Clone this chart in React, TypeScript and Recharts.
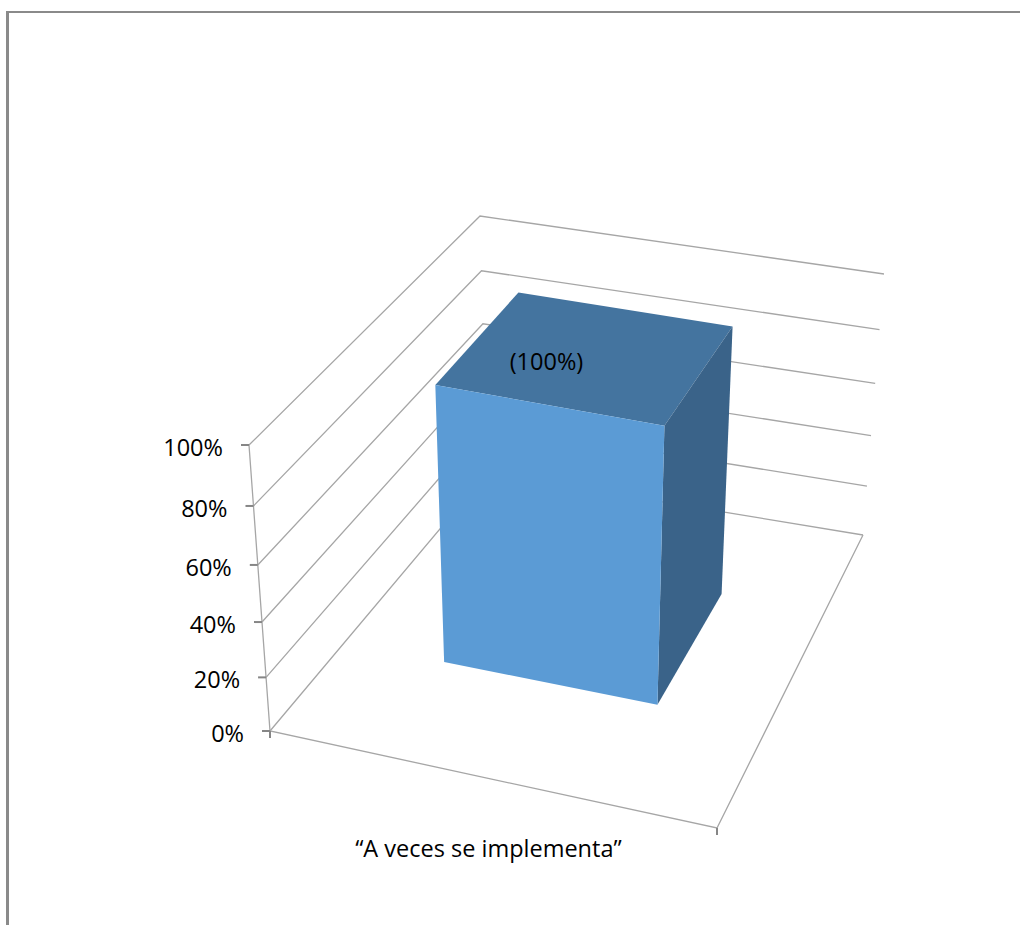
import { BarChart, Bar, XAxis, YAxis, CartesianGrid, LabelList } from "recharts";

const categories = ["“A veces se implementa”"];
const values = [100];
const barLabels = ["(100%)"];
const yTicks = [0, 20, 40, 60, 80, 100];

const data = categories.map((name, i) => ({ name, value: values[i], label: barLabels[i] }));

const WIDTH = 1020;
const HEIGHT = 925;
// flat plot rectangle recharts lays out, everything is then projected to the 3D box
const PLOT_LEFT = 100;
const PLOT_TOP = 100;
const PLOT_W = 820;
const PLOT_H = 725;

// box corners on screen: floor and top plane
const FLOOR = { a: [270, 731], b: [717, 828], c: [863, 535], d: [487, 473] };
const ROOF = { a: [249, 445], b: [729, 538], c: [884, 274], d: [480, 216] };
const BAR_DEPTH = [0.345, 0.735];
const PERSPECTIVE = 0.077;

const GRID_COLOR = "#a6a6a6";
const TICK_COLOR = "#868686";
const FONT = "'Open Sans', sans-serif";
const FONT_SIZE = 23.5;

function project(x: number, y: number, w: number) {
  const u = (x - PLOT_LEFT) / PLOT_W;
  const raw = (PLOT_TOP + PLOT_H - y) / PLOT_H;
  const v = (raw * (1 - PERSPECTIVE)) / (1 - PERSPECTIVE * raw);
  const at = (i: number) => {
    const plane = (p: typeof FLOOR) =>
      p.a[i] * (1 - u) * (1 - w) + p.b[i] * u * (1 - w) + p.c[i] * u * w + p.d[i] * (1 - u) * w;
    return plane(FLOOR) * (1 - v) + plane(ROOF) * v;
  };
  return [at(0), at(1)];
}

const pts = (list: number[][]) => list.map((p) => `${p[0]},${p[1]}`).join(" ");

function WallLine(props: any) {
  const { y1 } = props;
  const left = PLOT_LEFT;
  const right = PLOT_LEFT + PLOT_W;
  const bottom = PLOT_TOP + PLOT_H;
  const isFloor = Math.abs(y1 - bottom) < 0.5;
  return (
    <g>
      <polyline
        points={pts([project(left, y1, 0), project(left, y1, 1), project(right, y1, 1)])}
        fill="none"
        stroke={GRID_COLOR}
        strokeWidth={1.3}
      />
      {isFloor && (
        <g>
          <polyline
            points={pts([
              project(left, PLOT_TOP, 0),
              project(left, bottom, 0),
              project(right, bottom, 0),
              project(right, bottom, 1),
            ])}
            fill="none"
            stroke={GRID_COLOR}
            strokeWidth={1.3}
          />
          <path
            d={`M${FLOOR.a[0]} ${FLOOR.a[1]}v7M${FLOOR.b[0]} ${FLOOR.b[1]}v7`}
            stroke={TICK_COLOR}
            strokeWidth={2}
          />
        </g>
      )}
    </g>
  );
}

function ValueTick(props: any) {
  const { y, payload } = props;
  const [px, py] = project(PLOT_LEFT, y, 0);
  return (
    <g>
      <line x1={px - 8} y1={py} x2={px} y2={py} stroke={TICK_COLOR} strokeWidth={2} />
      <text
        x={px - 26}
        y={py + 2}
        textAnchor="end"
        dominantBaseline="central"
        fontFamily={FONT}
        fontSize={FONT_SIZE}
        fill="#000"
      >
        {payload.value}%
      </text>
    </g>
  );
}

function CategoryTick(props: any) {
  const { x, payload } = props;
  const [px, py] = project(x, PLOT_TOP + PLOT_H, 0);
  return (
    <text
      x={px + 0.5}
      y={py + 70}
      textAnchor="middle"
      dominantBaseline="central"
      fontFamily={FONT}
      fontSize={FONT_SIZE}
      fill="#000"
    >
      {payload.value}
    </text>
  );
}

function BoxBar(props: any) {
  const { x, y, width, height } = props;
  const [near, far] = BAR_DEPTH;
  const xr = x + width;
  const yb = y + height;
  return (
    <g>
      <polygon
        points={pts([project(x, y, near), project(xr, y, near), project(xr, y, far), project(x, y, far)])}
        fill="#44749F"
      />
      <polygon
        points={pts([project(xr, y, near), project(xr, y, far), project(xr, yb, far), project(xr, yb, near)])}
        fill="#3A6389"
      />
      <polygon
        points={pts([project(x, y, near), project(xr, y, near), project(xr, yb, near), project(x, yb, near)])}
        fill="#5B9BD5"
      />
    </g>
  );
}

function TopLabel(props: any) {
  const { x, y, width, value } = props;
  const [px, py] = project(x + width * 0.35, y, 0.5);
  return (
    <text
      x={px}
      y={py - 1}
      textAnchor="middle"
      dominantBaseline="central"
      fontFamily={FONT}
      fontSize={FONT_SIZE}
      fill="#000"
    >
      {value}
    </text>
  );
}

export default function App() {
  return (
    <div style={{ position: "absolute", left: 0, top: 0, width: WIDTH, height: HEIGHT, background: "#fff", overflow: "hidden" }}>
      <div
        style={{
          position: "absolute",
          left: 6,
          top: 11,
          right: 0,
          bottom: 0,
          borderLeft: "3px solid #8a8a8a",
          borderTop: "2px solid #8a8a8a",
        }}
      />
      <div style={{ position: "absolute", left: 0, top: 0 }}>
        <BarChart
          width={WIDTH}
          height={HEIGHT}
          data={data}
          barCategoryGap="24.1%"
          margin={{ top: PLOT_TOP, right: WIDTH - PLOT_LEFT - PLOT_W, bottom: 40, left: 40 }}
        >
          <CartesianGrid vertical={false} horizontal={WallLine} />
          <XAxis
            dataKey="name"
            height={HEIGHT - PLOT_TOP - PLOT_H - 40}
            axisLine={false}
            tickLine={false}
            tick={CategoryTick}
            padding={{ left: 0, right: PLOT_W * 0.025 }}
          />
          <YAxis
            width={PLOT_LEFT - 40}
            domain={[0, 100]}
            ticks={yTicks}
            axisLine={false}
            tickLine={false}
            tick={ValueTick}
          />
          <Bar dataKey="value" shape={BoxBar} isAnimationActive={false}>
            <LabelList dataKey="label" content={TopLabel} />
          </Bar>
        </BarChart>
      </div>
    </div>
  );
}
